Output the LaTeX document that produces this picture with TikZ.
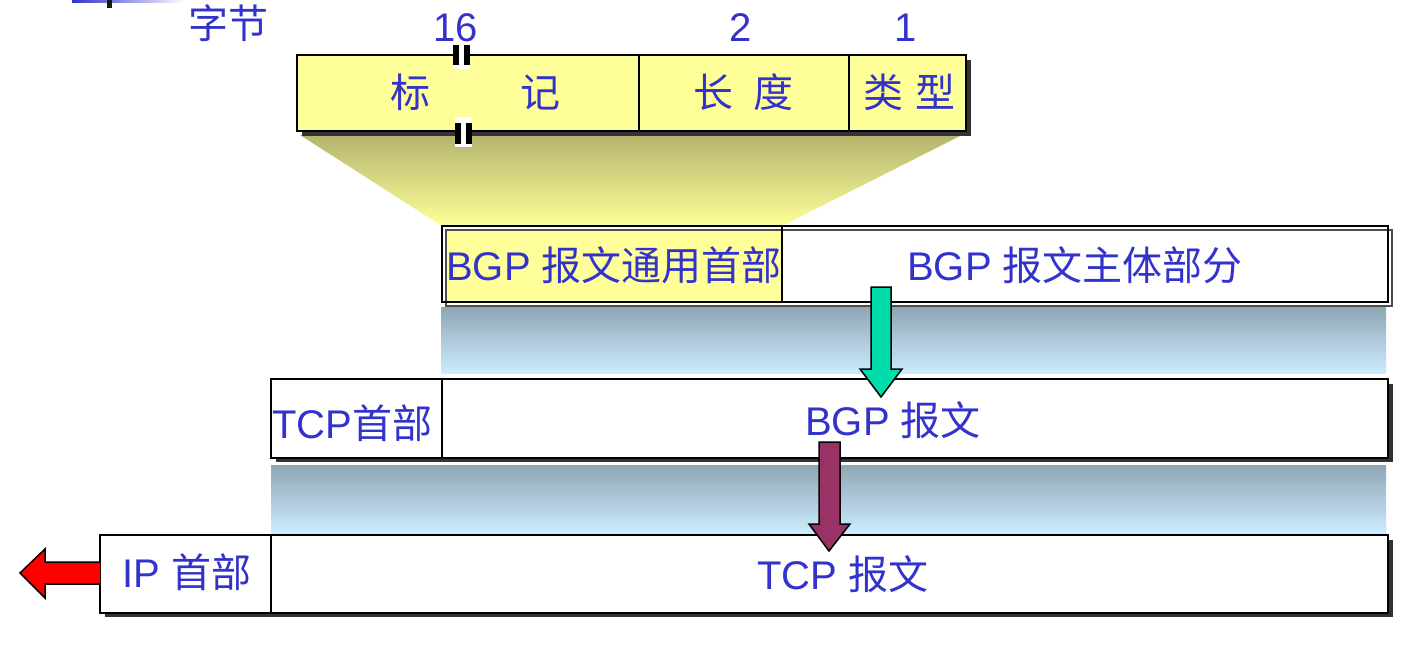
\documentclass[tikz,border=0pt]{standalone}
\usepackage{fontspec}
\setmainfont{Liberation Sans}
\newfontfamily\cjk{Noto Sans CJK SC}
\definecolor{txtblue}{RGB}{51,51,204}
\definecolor{hdryellow}{RGB}{255,255,153}
\definecolor{olivetop}{RGB}{180,180,110}
\definecolor{bandtop}{RGB}{143,166,181}
\definecolor{bandbot}{RGB}{204,236,255}
\definecolor{greenarr}{RGB}{0,221,170}
\definecolor{purplearr}{RGB}{153,51,102}
\begin{document}
\begin{tikzpicture}[x=1pt,y=-1pt,
  lbl/.style={text=txtblue,font=\fontsize{40}{48}\selectfont,inner sep=0pt,anchor=base},
  boxline/.style={line width=2.5pt,draw=black},
  thinbox/.style={line width=2pt,draw=black},
  shadowfill/.style={fill=black!80},
  band/.style={top color=bandtop,bottom color=bandbot},
  blockarrow/.style={draw=black,line width=1.5pt,line join=miter}]
\useasboundingbox (0,0) rectangle (1425,669);

% cropped fragment at top left
\shade[left color=txtblue,right color=white] (72,0) rectangle (185,2.5);
\fill[black!90] (107,0) rectangle (112,8);

% byte labels
\node[lbl] (zj) at (228,39) {\cjk 字节};
\node[lbl] (n16) at (456,42) {16};
\node[lbl] (n2) at (741,42) {2};
\node[lbl] (n1) at (906,42) {1};

% expansion trapezoid
\shade[top color=olivetop,bottom color=hdryellow] (300,135) -- (962,135) -- (782,226) -- (442,226) -- cycle;

% header box
\fill[shadowfill] (302,60) rectangle (971,136);
\draw[boxline,fill=hdryellow] (297,55) rectangle (966,131);
\draw[boxline] (639,55) -- (639,131);
\draw[boxline] (849,55) -- (849,131);
\node[lbl] (mark) at (475,107) {\cjk 标\hspace{90pt}记};
\node[lbl] (len) at (743,107) {\cjk 长\hspace{20pt}度};
\node[lbl] (type) at (909,107) {\cjk 类\hspace{12pt}型};

% break marks
\fill[white] (453,45) rectangle (470,69);
\fill[black] (453,45) rectangle (459,65);
\fill[black] (464,45) rectangle (470,65);
\fill[white] (455,117) rectangle (472,147);
\fill[black] (455,123) rectangle (461,144);
\fill[black] (466,123) rectangle (472,144);

% BGP row
\fill[white] (442,226) rectangle (1388,302);
\fill[hdryellow] (446,230) rectangle (782,302);
\draw[line width=2pt,draw=black!70] (446,230) rectangle (1392,306);
\draw[thinbox] (442,226) rectangle (1388,302);
\draw[thinbox] (782,226) -- (782,302);
\node[lbl] (bgphdr) at (614,280) {BGP {\cjk 报文通用首部}};
\node[lbl] (bgpbody) at (1075,280) {BGP {\cjk 报文主体部分}};

% band 1
\shade[band] (441,307) rectangle (1386,373);

% TCP row
\fill[shadowfill] (276,384) rectangle (1393,462);
\draw[boxline,fill=white] (271,379) rectangle (1388,458);
\draw[boxline] (442,379) -- (442,458);
\node[lbl] (tcphdr) at (352,438) {TCP{\cjk 首部}};
\node[lbl] (bgpmsg) at (893,435) {BGP {\cjk 报文}};

% band 2
\shade[band] (271,465) rectangle (1386,533);

% IP row
\fill[shadowfill] (105,540) rectangle (1393,617);
\draw[boxline,fill=white] (100,535) rectangle (1388,613);
\draw[boxline] (271,535) -- (271,613);
\node[lbl] (iphdr) at (187,587) {IP {\cjk 首部}};
\node[lbl] (tcpmsg) at (843,589) {TCP {\cjk 报文}};

% block arrows
\coordinate (gtip) at (881,397);
\draw[blockarrow,fill=greenarr] (871,287) -- (891,287) -- (891,369) -- (902,369) -- (gtip) -- (860,369) -- (871,369) -- cycle;
\coordinate (ptip) at (829,551);
\draw[blockarrow,fill=purplearr] (819,442) -- (840,442) -- (840,524) -- (850,524) -- (ptip) -- (809,524) -- (819,524) -- cycle;
\coordinate (rtip) at (20,573);
\draw[blockarrow,fill=red] (100,562) -- (45,562) -- (45,549) -- (rtip) -- (45,598) -- (45,584) -- (100,584);
\end{tikzpicture}
\end{document}
